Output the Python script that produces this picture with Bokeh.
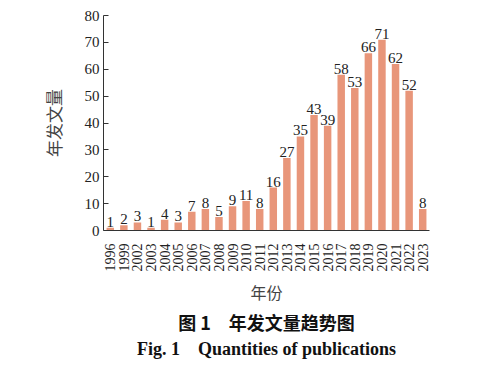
import math
from bokeh.plotting import figure
from bokeh.models import ColumnDataSource, FixedTicker, Range1d, Title
from bokeh.core.properties import value
from bokeh.embed import file_html
from bokeh.resources import INLINE

years = ["1996", "1999", "2002", "2003", "2004", "2005", "2006", "2007", "2008",
         "2009", "2010", "2011", "2012", "2013", "2014", "2015", "2016", "2017",
         "2018", "2019", "2020", "2021", "2022", "2023"]
counts = [1, 2, 3, 1, 4, 3, 7, 8, 5, 9, 11, 8, 16, 27, 35, 43, 39, 58, 53, 66,
          71, 62, 52, 8]
y_ticks = [0, 10, 20, 30, 40, 50, 60, 70, 80]

SERIF = "Liberation Serif"
CJK = "Noto Sans CJK SC"

src = ColumnDataSource(dict(x=years, y=counts, t=[str(c) for c in counts]))

p = figure(x_range=years, y_range=Range1d(0, 80), width=483, height=369,
           output_backend="svg", toolbar_location=None,
           min_border_left=103, min_border_right=54, min_border_top=15,
           min_border_bottom=139)
p.outline_line_color = None
p.xgrid.grid_line_color = None
p.ygrid.grid_line_color = None

p.vbar(x="x", top="y", width=0.55, source=src, color="#E8967A", line_color=None)
p.text(x="x", y="y", text="t", source=src, text_align="center",
       text_baseline="bottom", y_offset=-1, text_font=value(SERIF),
       text_font_size="15px", text_color="#222222")

ya = p.yaxis[0]
ya.ticker = FixedTicker(ticks=y_ticks)
ya.minor_tick_line_color = None
ya.major_tick_in = 5
ya.major_tick_out = 0
ya.major_label_standoff = 4
ya.major_label_text_font = SERIF
ya.major_label_text_font_size = "15px"
ya.major_label_text_color = "#222222"
ya.axis_line_color = "#333333"
ya.major_tick_line_color = "#333333"
ya.axis_label = "年发文量"
ya.axis_label_text_font = CJK
ya.axis_label_text_font_style = "normal"
ya.axis_label_text_font_size = "17px"
ya.axis_label_text_color = "#444444"
ya.axis_label_standoff = 16

xa = p.xaxis[0]
xa.major_tick_line_color = None
xa.minor_tick_line_color = None
xa.axis_line_color = "#333333"
xa.major_label_orientation = math.pi / 2
xa.major_label_standoff = 7
xa.major_label_text_font = SERIF
xa.major_label_text_font_size = "14px"
xa.major_label_text_color = "#222222"
xa.axis_label = "年份"
xa.axis_label_text_font = CJK
xa.axis_label_text_font_style = "normal"
xa.axis_label_text_font_size = "16px"
xa.axis_label_text_color = "#444444"
xa.axis_label_standoff = 5

t1 = Title(text="图 1\u3000年发文量趋势图", align="center", offset=-25,
           text_font=CJK, text_font_style="bold", text_font_size="18px",
           text_color="#111111", standoff=0)
t2 = Title(text="Fig. 1\u2003Quantities of publications", align="center", offset=-25,
           text_font=SERIF, text_font_style="bold", text_font_size="18px",
           text_color="#111111", standoff=5)
p.add_layout(t1, "below")
p.add_layout(t2, "below")

open("out.html", "w").write(file_html(p, INLINE))
